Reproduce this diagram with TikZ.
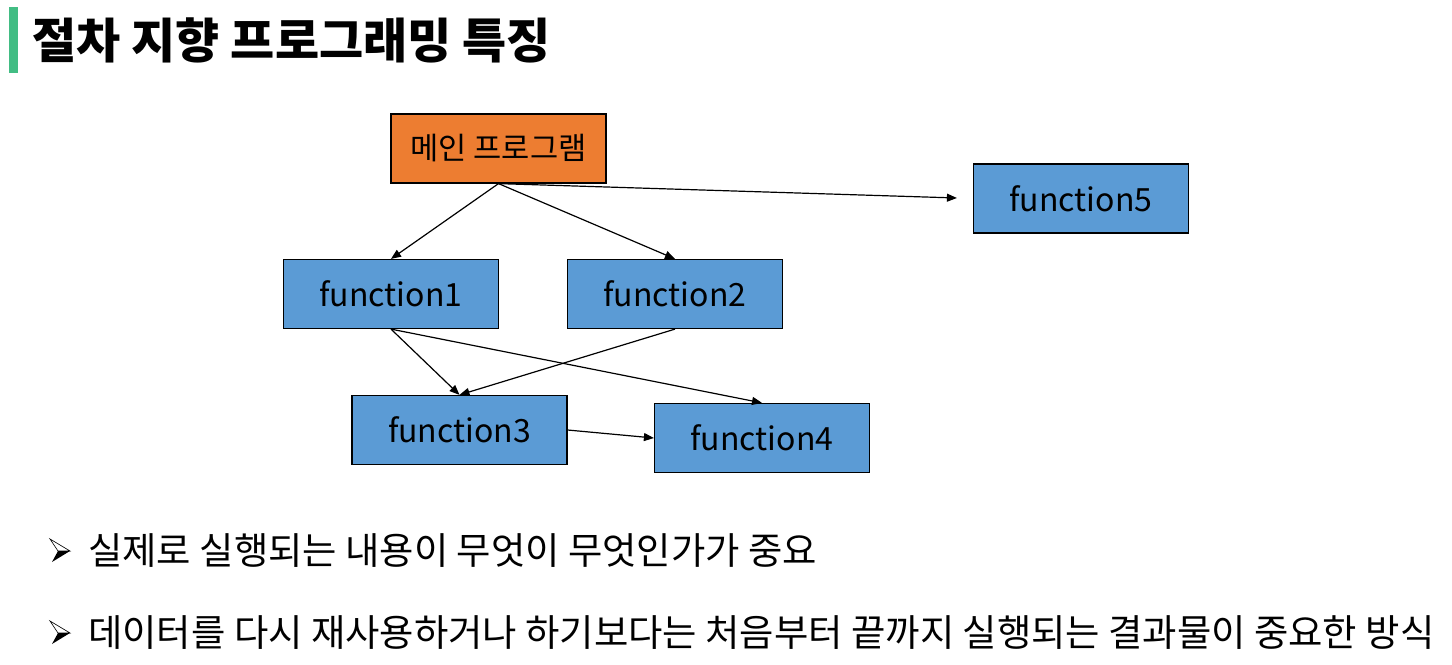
\documentclass[tikz,border=0pt]{standalone}
\usepackage{fontspec}
\setmainfont{Noto Sans CJK KR}
\usetikzlibrary{arrows.meta}
\definecolor{mainorange}{RGB}{237,125,49}
\definecolor{funcblue}{RGB}{91,155,213}
\definecolor{bargreen}{RGB}{66,189,132}

\begin{document}
\begin{tikzpicture}[x=0.75pt,y=0.75pt,yscale=-1,xscale=1,
  box/.style={draw=black,line width=0.9pt,minimum width=161.25pt,minimum height=51.75pt,inner sep=0pt,font=\fontsize{24}{28}\selectfont},
  link/.style={-{Triangle[length=7.5pt,width=6pt]},line width=0.9pt}]
\useasboundingbox (0,0) rectangle (1452,664);

%Title bar
\fill [bargreen] (9,7) rectangle (18,73);
% Title Node
\node [anchor=west,inner sep=0pt,font=\fontsize{36}{40}\selectfont\bfseries] (title) at (32,40) {절차 지향 프로그래밍 특징};

% Boxes
\node [box,fill=mainorange,font=\fontsize{23}{27}\selectfont] (main) at (498.5,148.5) {메인 프로그램};
\node [box,fill=funcblue] (f5) at (1081,198.5) {function5};
\node [box,fill=funcblue] (f1) at (391,294) {function1};
\node [box,fill=funcblue] (f2) at (675,294) {function2};
\node [box,fill=funcblue] (f3) at (459.5,430) {function3};
\node [box,fill=funcblue] (f4) at (762,438) {function4};

% Arrows
\draw [link] (main.south) -- (f1.north);
\draw [link] (main.south) -- (f2.north);
\draw [link,shorten >=12pt] (main.south) -- (f5.west);
\draw [link] (f1.south) -- (f3.north);
\draw [link] (f1.south) -- (f4.north);
\draw [link] (f2.south) -- (f3.north);
\draw [link] (f3.east) -- (f4.west);

% Bullets
\foreach \y in {551,633} {
  \draw [line width=0.5pt,fill=white] (50,\y-12) -- (70,\y) -- (58,\y) -- cycle;
  \fill (58,\y) -- (70,\y) -- (52,\y+11) -- cycle;
}
\node [anchor=west,inner sep=0pt,font=\fontsize{28}{32}\selectfont] (b1) at (88,551) {실제로 실행되는 내용이 무엇이 무엇인가가 중요};
\node [anchor=west,inner sep=0pt,font=\fontsize{28}{32}\selectfont] (b2) at (88,633) {데이터를 다시 재사용하거나 하기보다는 처음부터 끝까지 실행되는 결과물이 중요한 방식};

\end{tikzpicture}
\end{document}
